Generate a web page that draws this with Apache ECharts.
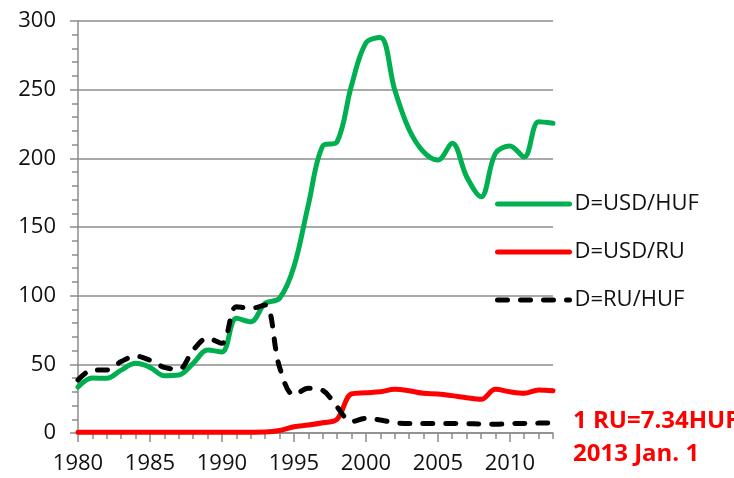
<!DOCTYPE html>
<html>
<head>
<meta charset="utf-8">
<script src="https://cdn.jsdelivr.net/npm/echarts@6/dist/echarts.min.js"></script>
<style>
	html, body { margin: 0; padding: 0; background: #fff; }
	#main { width: 734px; height: 478px; }
</style>
</head>
<body>
<div id="main"></div>
<script>
	// év
	var years = [];
	for (var y = 1980; y <= 2013; y++) years.push(String(y));

	// D=USD/HUF
	var usdHuf = [33.5, 40, 39.8, 45.8, 50.7, 47.8, 41.7, 42.2, 50.7, 60.4,
		59, 83.5, 81, 94.4, 98, 121, 166, 209, 212, 253,
		284, 288, 250, 221, 204.8, 198.7, 211, 186.6, 172, 203.6,
		209, 201, 226.6, 225.5];

	// D=USD/RU
	var usdRu = [0.6, 0.6, 0.6, 0.6, 0.6, 0.6, 0.6, 0.6, 0.6, 0.6,
		0.6, 0.6, 0.6, 0.7, 1.8, 4.6, 5.8, 7.5, 10, 28.5,
		29.3, 30, 31.8, 30.8, 28.9, 28.4, 27.2, 25.7, 24.5, 31.8,
		30, 28.9, 31.3, 30.8];

	// D=RU/HUF
	var ruHuf = [38.6, 45.9, 45.9, 52, 56, 53, 47.8, 46.4, 60.4, 69,
		65.3, 92, 90.8, 93.2, 48, 27.7, 32.5, 31, 19, 8.3,
		10.7, 9.5, 7.5, 7, 7, 7, 7, 6.8, 6.5, 6.3,
		6.8, 7, 7.2, 7.3];

	var yTicks = { min: 0, max: 300, step: 50 };
	var legendNames = ['D=USD/HUF', 'D=USD/RU', 'D=RU/HUF'];
	var noteLines = ['1 RU=7.34HUF', '2013 Jan. 1'];

	var font = 'Open Sans';
	var gray = '#8c8c8c';
	var smooth = 0.35;

	var chart = echarts.init(document.getElementById('main'));

	var option = {
		animation: false,
		backgroundColor: '#fff',
		grid: {
			left: 78,
			right: 181,
			top: 21,
			bottom: 45
		},
		legend: {
			orient: 'vertical',
			left: 490,
			top: 188,
			itemWidth: 72,
			itemHeight: 14,
			itemGap: 26,
			itemStyle: { opacity: 0 },
			lineStyle: { width: 5, cap: 'round' },
			textStyle: {
				fontFamily: font,
				fontSize: 22,
				lineHeight: 22,
				color: '#111'
			},
			data: legendNames
		},
		xAxis: [
			{
				type: 'category',
				data: years,
				boundaryGap: false,
				axisLine: { lineStyle: { color: gray, width: 1.5 } },
				axisTick: {
					interval: 0,
					length: 6,
					lineStyle: { color: gray, width: 1.5 }
				},
				axisLabel: {
					interval: 4,
					margin: 20,
					fontFamily: font,
					fontSize: 22,
					color: '#111'
				},
				splitLine: { show: false }
			},
			{
				// hosszabb osztások 5 évente
				type: 'category',
				data: years,
				boundaryGap: false,
				position: 'bottom',
				axisLine: { show: false },
				axisTick: {
					interval: 4,
					length: 9,
					lineStyle: { color: gray, width: 1.5 }
				},
				axisLabel: { show: false },
				splitLine: { show: false }
			}
		],
		yAxis: {
			type: 'value',
			min: yTicks.min,
			max: yTicks.max,
			interval: yTicks.step,
			axisLine: { show: true, lineStyle: { color: gray, width: 1.5 } },
			axisTick: {
				show: true,
				length: 8,
				lineStyle: { color: gray, width: 1.5 }
			},
			minorTick: {
				show: true,
				splitNumber: 5,
				length: 6,
				lineStyle: { color: gray, width: 1.5 }
			},
			axisLabel: {
				margin: 22,
				fontFamily: font,
				fontSize: 22,
				color: '#111'
			},
			splitLine: {
				show: true,
				lineStyle: { color: gray, width: 1.5 }
			}
		},
		series: [
			{
				name: legendNames[0],
				type: 'line',
				data: usdHuf,
				smooth: smooth,
				symbol: 'none',
				lineStyle: { color: '#00b050', width: 5, cap: 'round', join: 'round' },
				itemStyle: { color: '#00b050' }
			},
			{
				name: legendNames[1],
				type: 'line',
				data: usdRu,
				smooth: smooth,
				symbol: 'none',
				lineStyle: { color: '#ff0000', width: 5, cap: 'round', join: 'round' },
				itemStyle: { color: '#ff0000' }
			},
			{
				name: legendNames[2],
				type: 'line',
				data: ruHuf,
				smooth: smooth,
				symbol: 'none',
				lineStyle: {
					color: '#000',
					width: 5,
					type: [10, 13],
					cap: 'round',
					join: 'round'
				},
				itemStyle: { color: '#000' }
			}
		],
		graphic: [
			{
				type: 'text',
				left: 573,
				top: 405,
				style: {
					text: noteLines.join('\n'),
					fill: '#ff0000',
					font: 'bold 24px "' + font + '"',
					lineHeight: 33
				}
			}
		]
	};

	chart.setOption(option);
</script>
</body>
</html>
